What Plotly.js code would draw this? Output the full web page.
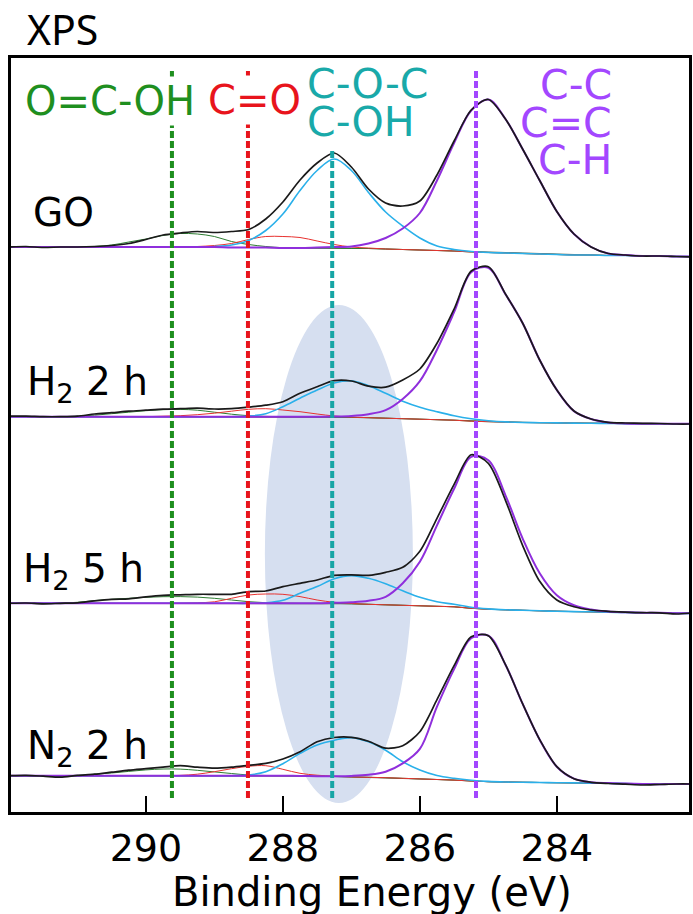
<!DOCTYPE html>
<html><head><meta charset="utf-8">
<script src="https://cdn.plot.ly/plotly-3.0.1.min.js"></script>
<style>html,body{margin:0;padding:0;background:#fff}#chart{width:693px;height:914px}</style>
</head><body><div id="chart"></div>
<script>
// Binding energy grid (eV)
const energy = [292,291.75,291.5,291.25,291,290.75,290.5,290.25,290,289.75,289.5,289.25,289,288.75,288.5,288.25,288,287.75,287.5,287.25,287,286.75,286.5,286.25,286,285.75,285.5,285.25,285,284.75,284.5,284.25,284,283.75,283.5,283.25,283,282.75,282.5,282.25,282];

const sampleNames = ['GO', 'H<sub>2</sub> 2 h', 'H<sub>2</sub> 5 h', 'N<sub>2</sub> 2 h'];
const xTickValues = [290, 288, 286, 284];
const xTickLabels = ['290', '288', '286', '284'];
const xAxisTitle = 'Binding Energy (eV)';

// ---- GO ----
const goBackground = [0,0,0,0,0,0,0,0,0,0,0,0,0,-0.5,-0.5,-0.5,-1,-1,-1,-1,-1.5,-1.5,-2,-2.5,-3,-3.5,-4,-5,-5.5,-6,-6.5,-7,-7.5,-8,-8,-8.5,-8.5,-9,-9,-9.5,-9.5];
const goMeasured = [0,0.5,-0.5,0,0,0.5,1.5,3.5,7.5,12,14,15.5,14.5,15.5,17.5,28,45,67,84,94,80,58,44,41,46,72,106,137,147.5,128,98,66.5,35.5,13,0,-6.5,-8,-9,-9,-9.5,-10];
const goCOOH = [0,0,0,0,0,0.5,2,5,8,11.5,13.5,13,10.5,6,3,1,0.3,0,0,0,0,0,0,0,0,0,0,0,0,0,0,0,0,0,0,0,0,0,0,0,0];
const goCO = [0,0,0,0,0,0,0,0,0,0,0,0.5,1.5,4,8,11,11.5,10.5,7,3.5,1.5,0.5,0,0,0,0,0,0,0,0,0,0,0,0,0,0,0,0,0,0,0];
const goCOC = [0,0,0,0,0,0,0,0,0,0,0,0,0.5,2.5,7,17,34,57.5,77.5,89,78,56,37,23.5,12,4.5,1.5,0.5,0,0,0,0,0,0,0,0,0,0,0,0,0];
const goCC = [0,0,0,0,0,0,0,0,0,0,0,0,0,0,0,0,0,0,0.5,1,2,5,11,21,37,70,108,141.5,153,134,104.5,73.5,43,21,8,2,0.5,0,0,0,0];

// ---- H2 2 h ----
const h2a_Background = [0,0,0,0,0,0,0,0,0,0,0,0,0,0,0,0,0,0,0,-0.3,-0.7,-1,-1.5,-2,-2.5,-3,-3.5,-4.5,-5,-5.5,-5.8,-6,-6.2,-6.4,-6.6,-6.7,-7,-7,-7,-7,-7];
const h2a_Measured = [0.5,0.5,0,0,0.5,2.7,4,5.5,6.5,7.5,8,8.5,7.7,8,9.5,11.5,15,23.5,30,36,35.7,30.5,29.5,36.7,47.7,73.4,107.7,145.7,150,122.7,93.7,56.7,26.7,5.7,-2.3,-5.6,-6.3,-6.6,-6.8,-7.3,-7.3];
const h2a_COOH = [0,0,0,0,0.5,1.5,3,4.5,6,7,7.3,6.5,4.5,2.5,1,0.3,0,0,0,0,0,0,0,0,0,0,0,0,0,0,0,0,0,0,0,0,0,0,0,0,0];
const h2a_CO = [0,0,0,0,0,0,0,0,0,0.5,1,2,3.5,5.5,7.4,8,6.7,5,2.7,1,0.3,0,0,0,0,0,0,0,0,0,0,0,0,0,0,0,0,0,0,0,0];
const h2a_COC = [0,0,0,0,0,0,0,0,0,0,0,0,0,0,0.5,3,10,18.5,26.7,34,36.5,32,25,17.5,12,8,4.5,2.5,1,0.3,0,0,0,0,0,0,0,0,0,0,0];
const h2a_CC = [0,0,0,0,0,0,0,0,0,0,0,0,0,0,0,0,0,0,0,0.5,1.5,3.5,8,19.7,38,70,108,149,154,128,99.5,62.7,33,12,4.3,1,0.3,0,0,0,0];

// ---- H2 5 h ----
const h2b_Background = [0,0,0,0,0,0,0,0,0,0,0,0,0,0,0,0,0,0,0,0,-0.5,-1,-1.5,-2,-2.5,-3,-3.5,-5,-6,-6.5,-7,-7.5,-8,-8.3,-8.5,-9,-9.2,-9.4,-9.5,-10,-10];
const h2b_Measured = [0,0.3,-0.5,0,0.5,2.5,4,4.5,6.5,8,8.5,9,9,9,11.7,12.3,16.7,20,23.3,28,28.5,28,31,36,52,85,119,148.5,140,103,58,22,3.3,-3.5,-6.7,-8,-8.8,-9.4,-9.5,-10.7,-9.5];
const h2b_COOH = [0,0,0,0.3,1,2.7,4,5,6,6.6,6.7,6.2,5,3.3,1.6,0.6,0.2,0,0,0,0,0,0,0,0,0,0,0,0,0,0,0,0,0,0,0,0,0,0,0,0];
const h2b_CO = [0,0,0,0,0,0,0,0,0,0,0,0.5,1.5,5,8.3,9.3,9,6.7,3.3,1,0.3,0,0,0,0,0,0,0,0,0,0,0,0,0,0,0,0,0,0,0,0];
const h2b_COC = [0,0,0,0,0,0,0,0,0,0,0,0,0,0,0,0.5,3,10,16.7,24.5,28.2,26,21,14.5,8.5,4.6,2.5,1,0.4,0,0,0,0,0,0,0,0,0,0,0,0];
const h2b_CC = [0,0,0,0,0,0,0,0,0,0,0,0,0,0,0,0,0,0,0,0.5,1.5,3.5,8,22,44,81,118,151.5,149,114.5,72,37.5,16,6.3,2.3,0.7,0.2,0,0,0,0];

// ---- N2 2 h ----
const n2_Background = [0,0,0,0,0,0,0,0,0,0,0,0,0,0,0,0,0,-0.3,-0.5,-0.8,-1.2,-1.6,-2,-2.6,-3.2,-3.8,-4.4,-5.3,-6,-6.3,-6.6,-6.8,-7,-7.2,-7.4,-7.6,-7.8,-8.2,-8.5,-8.3,-8.3];
const n2_Measured = [0,0.3,-0.5,-1.5,0.3,1.5,3.5,5.5,7,8.5,10,8.5,7.5,8.5,10.4,12.3,16.7,24,34,38.2,38.4,34.5,27.5,30,44,76,110,139,140,111,72,36,9,-3,-6.6,-7.8,-8.5,-9.3,-8.8,-8.3,-8.3];
const n2_COOH = [0,0,0,0,0.3,1.5,2.7,4.3,5.8,6.7,6.6,5.4,3.8,2.2,0.7,0.2,0,0,0,0,0,0,0,0,0,0,0,0,0,0,0,0,0,0,0,0,0,0,0,0,0];
const n2_CO = [0,0,0,0,0,0,0,0,0,0,0.3,1.5,4,7,9.4,10,6.4,2.7,1,0.3,0,0,0,0,0,0,0,0,0,0,0,0,0,0,0,0,0,0,0,0,0];
const n2_COC = [0,0,0,0,0,0,0,0,0,0,0,0,0,0,0.7,4,12,22.6,31.2,36.3,39.3,35.5,27.5,16.5,9,4,1.8,0.8,0.3,0,0,0,0,0,0,0,0,0,0,0,0];
const n2_CC = [0,0,0,0,0,0,0,0,0,0,0,0,0,0,0,0,0,0,0,0.3,1,2.5,6,15,30,72.8,111,142.8,146,117.3,78.6,42.8,16,4.2,0.8,0.2,0,0,0,0,0];

// Reference peak positions (eV) and labels
const peakEnergies = [289.62, 288.51, 287.28, 285.18];
const peakLabels = [['O=C-OH'], ['C=O'], ['C-O-C', 'C-OH'], ['C-C', 'C=C', 'C-H']];

// ---------------- drawing ----------------
const stackOffsets = [566, 396.3, 209.7, 37.3];
const backgrounds = [goBackground, h2a_Background, h2b_Background, n2_Background];
const measured = [goMeasured, h2a_Measured, h2b_Measured, n2_Measured];
const components = [
  [goCOOH, goCO, goCOC, goCC],
  [h2a_COOH, h2a_CO, h2a_COC, h2a_CC],
  [h2b_COOH, h2b_CO, h2b_COC, h2b_CC],
  [n2_COOH, n2_CO, n2_COC, n2_CC]
];
const compColors = ['#2e7d32', '#e8322f', '#2ab0ea', '#8f2fdc'];
const compWidths = [1, 1, 1.6, 2];
const markerColors = ['#1f8f1f', '#e8141c', '#16a5a5', '#a347ff'];
const labelColors = ['#1f8f1f', '#e8141c', '#19a9a9', '#a347ff'];

const traces = [];
for (let s = 0; s < 4; s++) {
  const off = stackOffsets[s];
  const bg = backgrounds[s];
  traces.push({x: energy, y: bg.map(v => v + off), mode: 'lines',
    line: {color: '#56644e', width: 1}, hoverinfo: 'skip'});
  for (let c = 0; c < 4; c++) {
    const comp = components[s][c];
    traces.push({x: energy, y: comp.map((v, i) => v + bg[i] + off), mode: 'lines',
      line: {color: compColors[c], width: compWidths[c], shape: 'spline', smoothing: 1}, hoverinfo: 'skip'});
  }
  traces.push({x: energy, y: measured[s].map(v => v + off), mode: 'lines',
    line: {color: '#1a1a1a', width: 1.7, shape: 'spline', smoothing: 0.8}, hoverinfo: 'skip'});
}
// vertical dashed reference lines
const lineTops = [745, 745, 663, 745];
for (let k = 0; k < 4; k++) {
  traces.push({x: [peakEnergies[k], peakEnergies[k]], y: [15, lineTops[k]], mode: 'lines',
    line: {color: markerColors[k], width: 4, dash: '7px,3px'}, hoverinfo: 'skip'});
}

const W = 678, H = 754, L = 11, T = 58;
const px = x => (x - L) / W;
const py = y => (T + H - y) / H;
const F = 'DejaVu Sans';
const ann = [];
ann.push({text: 'XPS', x: px(25), y: py(29), xref: 'paper', yref: 'paper', xanchor: 'left', yanchor: 'middle',
  showarrow: false, font: {family: 'Noto Sans', size: 41, color: '#000'}});
ann.push({text: xAxisTitle, x: px(372), y: py(891.5), xref: 'paper', yref: 'paper', xanchor: 'center', yanchor: 'middle',
  showarrow: false, font: {family: F, size: 40, color: '#000'}});
ann.push({text: peakLabels[0][0], x: px(23), y: py(100.5), xref: 'paper', yref: 'paper', xanchor: 'left', yanchor: 'middle',
  showarrow: false, bgcolor: '#fff', font: {family: F, size: 40, color: labelColors[0]}});
ann.push({text: peakLabels[1][0], x: px(206), y: py(100), xref: 'paper', yref: 'paper', xanchor: 'left', yanchor: 'middle',
  showarrow: false, bgcolor: '#fff', font: {family: F, size: 40, color: labelColors[1]}});
const tealY = [83.5, 122];
peakLabels[2].forEach((t, i) => ann.push({text: t, x: px(305), y: py(tealY[i]), xref: 'paper', yref: 'paper',
  xanchor: 'left', yanchor: 'middle', showarrow: false, font: {family: F, size: 41, color: labelColors[2]}}));
const purpY = [85.5, 123.5, 160];
peakLabels[3].forEach((t, i) => ann.push({text: t, x: px(614), y: py(purpY[i]), xref: 'paper', yref: 'paper',
  xanchor: 'right', yanchor: 'middle', showarrow: false, font: {family: F, size: 41, color: labelColors[3]}}));
const sampleX = [31, 25, 21, 25];
const sampleY = [212.5, 384, 571, 747.5];
sampleNames.forEach((t, i) => ann.push({text: t, x: px(sampleX[i]), y: py(sampleY[i]), xref: 'paper', yref: 'paper',
  xanchor: 'left', yanchor: 'middle', showarrow: false, font: {family: F, size: 39, color: '#000'}}));

const layout = {
  width: 693, height: 914,
  margin: {l: L, r: 693 - L - W, t: T, b: 914 - T - H},
  paper_bgcolor: '#fff', plot_bgcolor: '#fff',
  showlegend: false,
  xaxis: {range: [291.97, 282.07], tickvals: xTickValues, ticktext: xTickLabels,
    ticks: 'inside', ticklen: 16, tickwidth: 2.5, tickcolor: '#000',
    showline: true, linewidth: 3, linecolor: '#000', mirror: true, showgrid: false, zeroline: false,
    tickfont: {family: F, size: 38, color: '#000'}},
  yaxis: {range: [1, 755], showline: true, linewidth: 3, linecolor: '#000', mirror: true,
    showticklabels: false, ticks: '', showgrid: false, zeroline: false},
  shapes: [{type: 'circle', xref: 'x', yref: 'y', x0: 288.263, x1: 286.102, y0: 10, y1: 508,
    fillcolor: '#d6dff0', line: {width: 0}, layer: 'below'}],
  annotations: ann
};
Plotly.newPlot('chart', traces, layout, {staticPlot: true});
</script></body></html>
